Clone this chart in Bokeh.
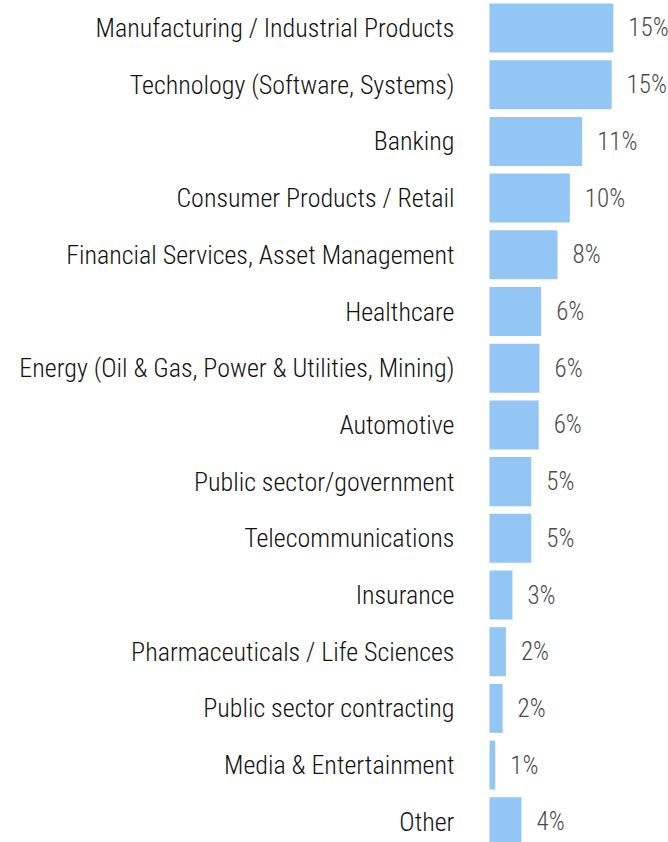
from bokeh.plotting import figure
from bokeh.models import ColumnDataSource, Range1d
from bokeh.core.properties import value
from bokeh.embed import file_html
from bokeh.resources import INLINE

categories = [
    "Manufacturing / Industrial Products",
    "Technology (Software, Systems)",
    "Banking",
    "Consumer Products / Retail",
    "Financial Services, Asset Management",
    "Healthcare",
    "Energy (Oil & Gas, Power & Utilities, Mining)",
    "Automotive",
    "Public sector/government",
    "Telecommunications",
    "Insurance",
    "Pharmaceuticals / Life Sciences",
    "Public sector contracting",
    "Media & Entertainment",
    "Other",
]
values = [15.1, 14.9, 11.3, 9.8, 8.3, 6.3, 6.1, 6.0, 5.1, 5.1, 2.8, 2.0, 1.6, 0.7, 3.9]
value_labels = [f"{round(v)}%" for v in values]

FONT = "Roboto Condensed Light"

src = ColumnDataSource(dict(
    y=list(range(len(categories))),
    cat=categories,
    val=values,
    lab=value_labels,
    zero=[0] * len(values),
))

p = figure(width=668, height=842, output_backend="svg", toolbar_location=None,
           x_range=Range1d(-59.63, 21.83), y_range=Range1d(14.365, -0.485),
           min_border=0, outline_line_color=None)
p.axis.visible = False
p.grid.visible = False
p.background_fill_color = "white"

p.hbar(y="y", left=0, right="val", height=0.865, source=src,
       fill_color="#94C6F5", line_color=None)

p.text(x="zero", y="y", text="cat", source=src, x_offset=-35,
       text_align="right", text_baseline="middle",
       text_font=value(FONT), text_font_size="26px", text_color="#111111")

p.text(x="val", y="y", text="lab", source=src, x_offset=15,
       text_align="left", text_baseline="middle",
       text_font=value(FONT), text_font_size="25px", text_color="#4a4a4a")

open("out.html", "w").write(file_html(p, INLINE))
